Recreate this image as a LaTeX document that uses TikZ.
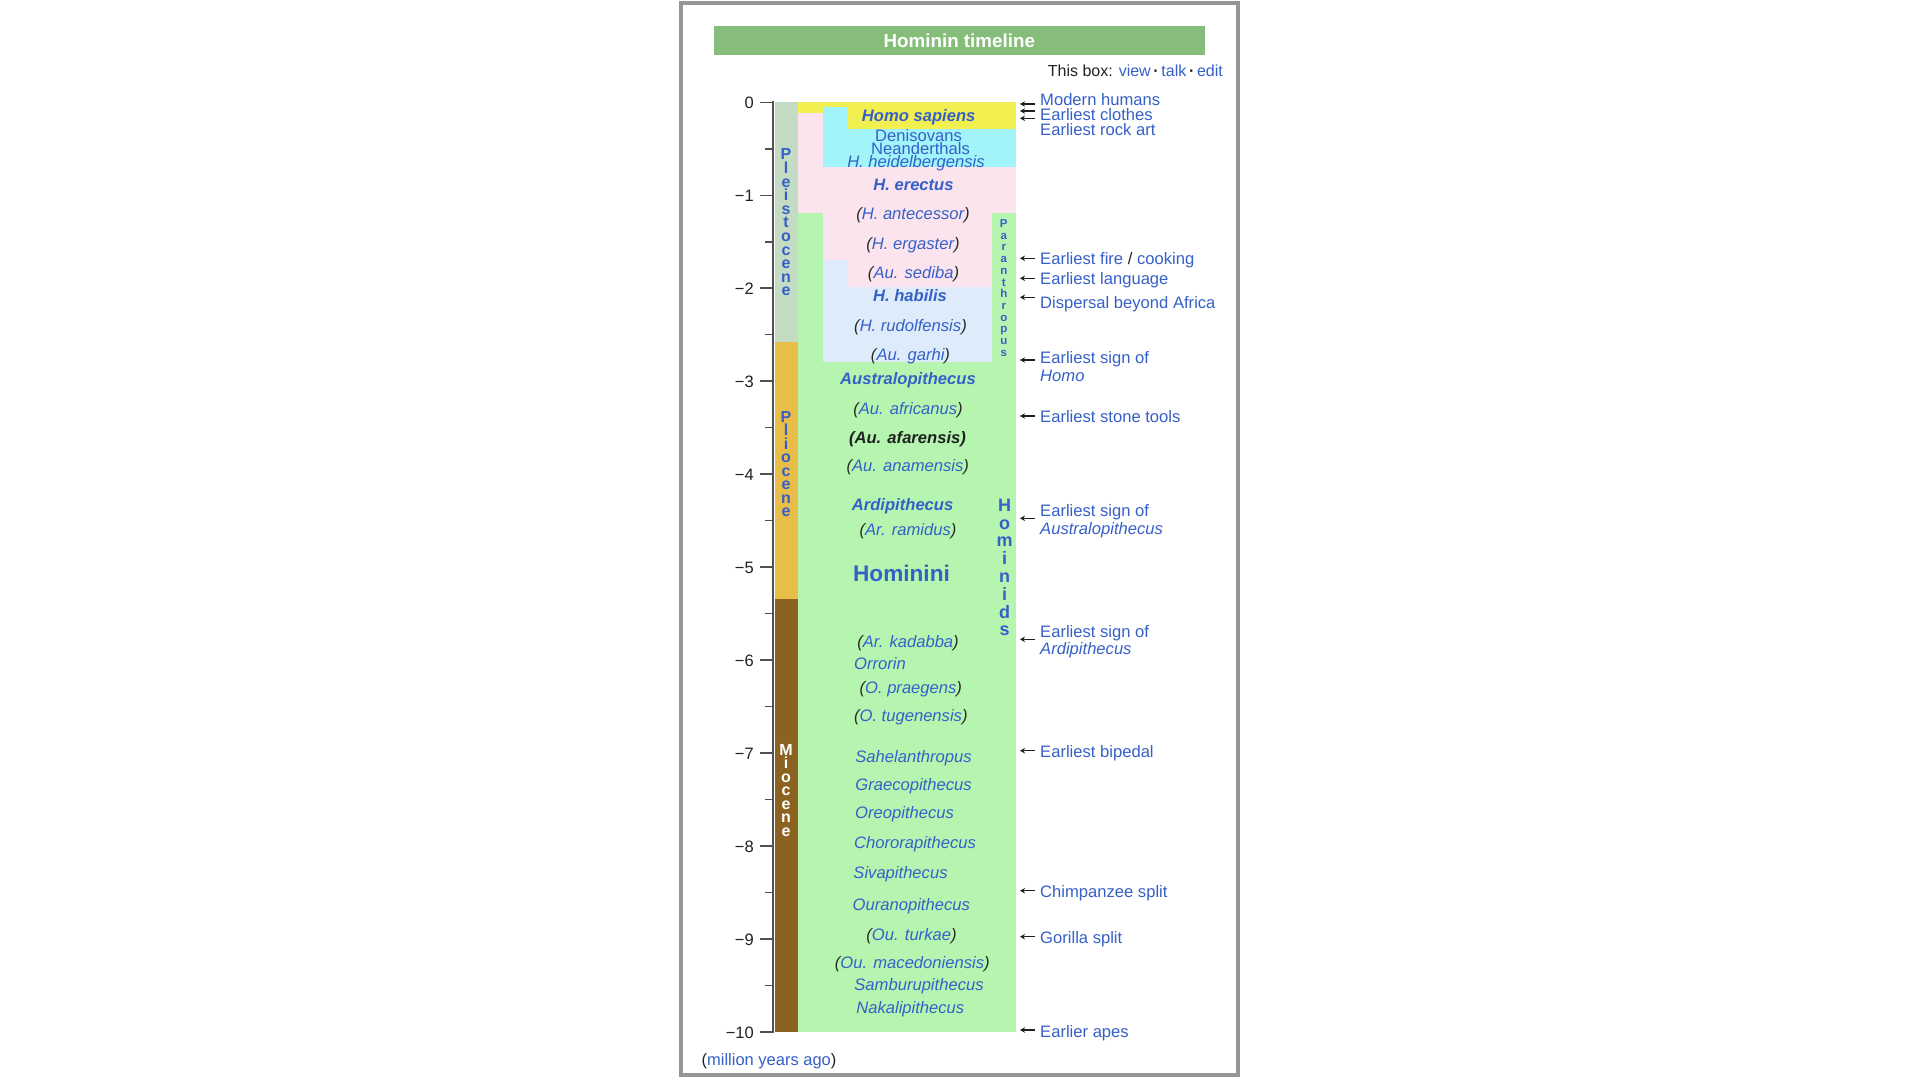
\documentclass[tikz,border=0pt]{standalone}
\usepackage{fontspec}
\setmainfont{Liberation Sans}
\usetikzlibrary{arrows.meta}
\definecolor{lk}{RGB}{54,96,200}
\definecolor{pc}{RGB}{40,45,35}
\definecolor{ttl}{RGB}{134,189,122}
\definecolor{yel}{RGB}{242,240,80}
\definecolor{cya}{RGB}{160,244,250}
\definecolor{pnk}{RGB}{252,228,238}
\definecolor{lbl}{RGB}{222,235,250}
\definecolor{grn}{RGB}{182,245,176}
\definecolor{ple}{RGB}{196,220,196}
\definecolor{pli}{RGB}{232,190,72}
\definecolor{mio}{RGB}{140,98,32}
\definecolor{frm}{RGB}{150,150,150}
\definecolor{axc}{RGB}{80,80,80}
\definecolor{txt}{RGB}{32,33,34}
\newcommand{\myparen}[1]{\textcolor{pc}{(}#1\textcolor{pc}{)}}
\newcommand{\mytls}{\lineskiplimit=-100pt\relax}
\tikzset{
  sp/.style={inner sep=0pt, yshift=-1.6pt, text=lk, font=\fontsize{16.6}{18}\selectfont\itshape, text height=11.8pt, text depth=3.4pt},
  spb/.style={sp, font=\fontsize{16.6}{18}\selectfont\bfseries\itshape},
  spr/.style={sp, font=\fontsize{16.6}{18}\selectfont},
  ann/.style={inner sep=0pt, yshift=-1.4pt, anchor=west, text=lk, font=\fontsize{16.6}{18}\selectfont, text height=12pt, text depth=3.5pt},
  axl/.style={inner sep=0pt, anchor=east, text=txt, font=\fontsize{16.5}{18}\selectfont, text height=12pt, text depth=0pt},
  arr/.style={draw=txt, line width=1.2pt, -{Stealth[length=5pt,width=5.5pt]}},
  vlet/.style={inner sep=0pt, align=center, text=lk},
}
\begin{document}
\begin{tikzpicture}[x=1pt,y=-1pt]
\useasboundingbox (0,0) rectangle (1920,1080);
\fill[white] (0,0) rectangle (1920,1080);
% frame
\draw[frm, line width=4pt] (680.7,2.5) rectangle (1237.5,1074.5);
% title
\fill[ttl] (713.5,26) rectangle (1205,55);
\node[inner sep=0pt, text=white, font=\fontsize{18.8}{20}\selectfont\bfseries] (title) at (959.3,41) {Hominin timeline};
\node[anchor=east, inner sep=0pt, yshift=-1pt, text=txt, font=\fontsize{16}{18}\selectfont, text height=11.5pt, text depth=3.3pt] (tbox) at (1223,71) {This box: \textcolor{lk}{view}\,\textbf{·}\,\textcolor{lk}{talk}\,\textbf{·}\,\textcolor{lk}{edit}};

% colored regions
\fill[grn] (798,213.3) rectangle (1016,1032);
\fill[pnk] (798,113.3) rectangle (823,213.3);
\fill[pnk] (823,166.7) rectangle (1016,213.3);
\fill[pnk] (823,213.3) rectangle (847,260);
\fill[pnk] (847,213.3) rectangle (992,286.7);
\fill[lbl] (823,260) rectangle (847,361.7);
\fill[lbl] (847,286.7) rectangle (992,361.7);
\fill[cya] (823,106.7) rectangle (847,166.7);
\fill[cya] (847,129.3) rectangle (1016,166.7);
\fill[yel] (798,102.3) rectangle (823,113.3);
\fill[yel] (823,102.3) rectangle (847,106.7);
\fill[yel] (847,102.3) rectangle (1016,129.3);

% epochs
\fill[ple] (775,102.3) rectangle (798,342.3);
\fill[pli] (775,342.3) rectangle (798,598.7);
\fill[mio] (775,598.7) rectangle (798,1032);

% axis
\draw[axc, line width=2pt] (773.3,101.3) -- (773.3,1033);
\foreach \k in {0,...,10}{
  \draw[axc, line width=1.5pt] (760,{102.3+92.97*\k}) -- (773.3,{102.3+92.97*\k});
}
\foreach \k in {0,...,9}{
  \draw[axc, line width=1.5pt] (765,{102.3+92.97*\k+46.48}) -- (773.3,{102.3+92.97*\k+46.48});
}
\node[axl] (t0) at (754,102.3) {0};
\node[axl] (t1) at (754,195.3) {−1};
\node[axl] (t2) at (754,288.2) {−2};
\node[axl] (t3) at (754,381.2) {−3};
\node[axl] (t4) at (754,474.2) {−4};
\node[axl] (t5) at (754,567.1) {−5};
\node[axl] (t6) at (754,660.1) {−6};
\node[axl] (t7) at (754,753.1) {−7};
\node[axl] (t8) at (754,846.1) {−8};
\node[axl] (t9) at (754,939) {−9};
\node[axl] (t10) at (754,1032) {−10};

% epoch labels
\node[vlet, font=\fontsize{16}{13.6}\selectfont\bfseries\mytls] (pleist) at (786,222.5) {P\\l\\e\\i\\s\\t\\o\\c\\e\\n\\e};
\node[vlet, font=\fontsize{16}{13.5}\selectfont\bfseries\mytls] (plio) at (786,464) {P\\l\\i\\o\\c\\e\\n\\e};
\node[vlet, text=white, font=\fontsize{16}{13.5}\selectfont\bfseries\mytls] (mioc) at (786,790.2) {M\\i\\o\\c\\e\\n\\e};
\node[vlet, font=\fontsize{11.5}{11.73}\selectfont\bfseries\mytls] (paran) at (1003.8,288) {P\\a\\r\\a\\n\\t\\h\\r\\o\\p\\u\\s};
\node[vlet, font=\fontsize{18}{17.8}\selectfont\bfseries\mytls] (homids) at (1004.5,567.5) {H\\o\\m\\i\\n\\i\\d\\s};

% species
\node[spb] (hsap) at (918.7,115.5) {Homo sapiens};
\node[spr] (denis) at (918.5,135.2) {Denisovans};
\node[spr] (neand) at (920.5,148.3) {Neanderthals};
\node[sp] (heid) at (916,161.5) {H. heidelbergensis};
\node[spb] (erec) at (913.5,185) {H. erectus};
\node[sp] (ante) at (913,214) {\myparen{H. antecessor}};
\node[sp] (erga) at (913,243.3) {\myparen{H. ergaster}};
\node[sp] (sedi) at (913.5,272.3) {\myparen{Au. sediba}};
\node[spb] (habi) at (910,296) {H. habilis};
\node[sp] (rudo) at (910.5,325.3) {\myparen{H. rudolfensis}};
\node[sp] (garh) at (910.5,354.3) {\myparen{Au. garhi}};
\node[spb] (aust) at (908,379) {Australopithecus};
\node[sp] (afri) at (908,408.3) {\myparen{Au. africanus}};
\node[spb, text=txt] (afar) at (907.5,437.3) {(Au. afarensis)};
\node[sp] (anam) at (907.8,466) {\myparen{Au. anamensis}};
\node[spb] (ardi) at (902.6,504.3) {Ardipithecus};
\node[sp] (rami) at (908,530) {\myparen{Ar. ramidus}};
\node[inner sep=0pt, yshift=-1pt, text=lk, font=\fontsize{22.6}{24}\selectfont\bfseries] (homini) at (901.5,572.7) {Hominini};
\node[sp] (kada) at (908,641.7) {\myparen{Ar. kadabba}};
\node[sp] (orro) at (880,664) {Orrorin};
\node[sp] (prae) at (910.8,687.3) {\myparen{O. praegens}};
\node[sp] (tuge) at (910.8,716) {\myparen{O. tugenensis}};
\node[sp] (sahe) at (913.5,756.7) {Sahelanthropus};
\node[sp] (grae) at (913.5,784.3) {Graecopithecus};
\node[sp] (oreo) at (904.6,812.3) {Oreopithecus};
\node[sp] (chor) at (915,842.7) {Chororapithecus};
\node[sp] (siva) at (900.5,872.7) {Sivapithecus};
\node[sp] (oura) at (911.3,904.3) {Ouranopithecus};
\node[sp] (turk) at (911.5,935) {\myparen{Ou. turkae}};
\node[sp] (mace) at (912.3,962.3) {\myparen{Ou. macedoniensis}};
\node[sp] (samb) at (919,984.3) {Samburupithecus};
\node[sp] (naka) at (910.3,1007.7) {Nakalipithecus};

% annotations
\node[ann] (modh) at (1040,100) {Modern humans};
\node[ann] (clot) at (1040,115) {Earliest clothes};
\node[ann] (rock) at (1040,130) {Earliest rock art};
\node[ann] (fire) at (1040,259.3) {Earliest fire \textcolor{txt}{/} cooking};
\node[ann] (lang) at (1040,279.3) {Earliest language};
\node[ann] (disp) at (1040,303.3) {Dispersal beyond Africa};
\node[ann] (sgh1) at (1040,358.3) {Earliest sign of};
\node[ann] (sgh2) at (1040,375.5) {\itshape Homo};
\node[ann] (tool) at (1040,417.3) {Earliest stone tools};
\node[ann] (sga1) at (1040,511) {Earliest sign of};
\node[ann] (sga2) at (1040,528.5) {\itshape Australopithecus};
\node[ann] (sgr1) at (1040,631.7) {Earliest sign of};
\node[ann] (sgr2) at (1040,649.3) {\itshape Ardipithecus};
\node[ann] (bipe) at (1040,751.7) {Earliest bipedal};
\node[ann] (chim) at (1040,891.7) {Chimpanzee split};
\node[ann] (gori) at (1040,938.3) {Gorilla split};
\node[ann] (earl) at (1040,1031.7) {Earlier apes};
\node[inner sep=0pt, yshift=-1pt, text=lk, font=\fontsize{16.5}{18}\selectfont, text height=12pt, text depth=3.5pt] (mya) at (769,1060) {\textcolor{txt}{(}million years ago\textcolor{txt}{)}};

% arrows
\foreach \n/\yy in {a1/104,a2/111,a3/118.3,a4/258.3,a5/278.3,a6/297.3,a7/360,a8/416,a9/518.3,a10/639.3,a11/750.7,a12/890.7,a13/936.7,a14/1030}{
  \coordinate (\n s) at (1034.5,\yy);
  \coordinate (\n e) at (1020,\yy);
  \draw[arr] (\n s) -- (\n e);
}
\end{tikzpicture}
\end{document}
